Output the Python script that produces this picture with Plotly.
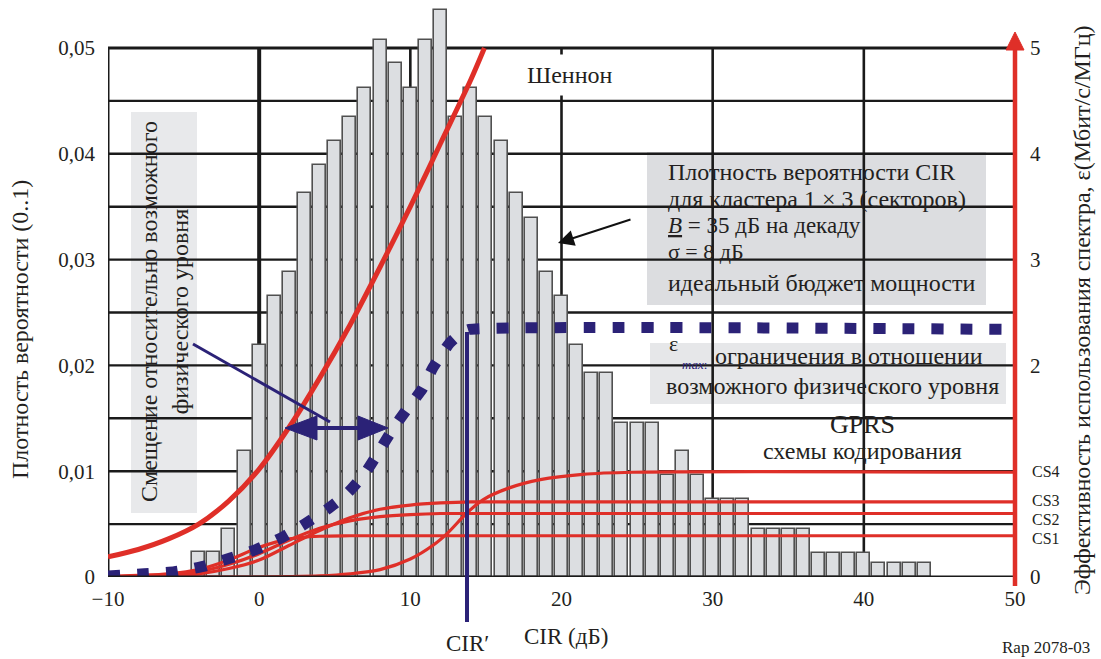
import plotly.graph_objects as go

# ---------------- data ----------------
cir_bins = list(range(-4, 45))
pdf_values = [0.0024, 0.0024, 0.0045, 0.0119, 0.0219, 0.0266, 0.0288, 0.0363, 0.0389, 0.0412,
              0.0435, 0.0462, 0.0508, 0.0486, 0.0462, 0.0508, 0.0536, 0.0435, 0.0462, 0.0435,
              0.0412, 0.0363, 0.0339, 0.0288, 0.0266, 0.0219, 0.0193, 0.0193, 0.0146, 0.0146,
              0.0146, 0.0096, 0.0119, 0.0096, 0.0074, 0.0074, 0.0074, 0.0045, 0.0045, 0.0045,
              0.0045, 0.0023, 0.0023, 0.0023, 0.0023, 0.0013, 0.0013, 0.0013, 0.0013]

shannon_x = [-10, -8, -6, -4, -2, 0, 2, 4, 6, 8, 10, 12, 14, 14.9]
shannon_y = [0.19, 0.26, 0.36, 0.50, 0.72, 1.02, 1.42, 1.88, 2.38, 2.93, 3.5, 4.1, 4.7, 5.0]

eps_x = [-10, -7.6, -5.6, -3.7, -1.9, -0.2, 1.6, 3.0, 4.6, 5.9, 7.0, 7.9, 8.8, 9.8, 10.8,
         11.5, 12.6, 13.4, 13.9, 50]
eps_y = [0.01, 0.03, 0.05, 0.10, 0.18, 0.26, 0.38, 0.50, 0.65, 0.80, 0.98, 1.18, 1.39, 1.59,
         1.78, 1.98, 2.21, 2.31, 2.34, 2.34]

cs1_x = [-10, -8, -6, -4, -2, 0, 2, 4, 6, 50]
cs1_y = [0.005, 0.015, 0.03, 0.07, 0.16, 0.28, 0.36, 0.385, 0.39, 0.39]
cs2_x = [-10, -8, -6, -4, -2, 0, 2, 4, 6, 8, 10, 12, 50]
cs2_y = [0.0, 0.01, 0.02, 0.05, 0.12, 0.22, 0.35, 0.46, 0.53, 0.57, 0.59, 0.60, 0.60]
cs3_x = [-10, -8, -6, -4, -2, 0, 2, 4, 6, 8, 10, 12, 14, 50]
cs3_y = [0.0, 0.005, 0.01, 0.03, 0.08, 0.16, 0.30, 0.44, 0.56, 0.64, 0.68, 0.70, 0.71, 0.71]
cs4_x = [-10, 0, 2, 4, 6, 8, 10, 11.5, 12.5, 13.7, 14.8, 16.5, 18.6, 21.4, 24.7, 50]
cs4_y = [0.0, 0.0, 0.003, 0.01, 0.03, 0.07, 0.17, 0.30, 0.42, 0.60, 0.73, 0.84, 0.92, 0.97, 0.99, 0.99]

x_ticks = [-10, 0, 10, 20, 30, 40, 50]
x_ticktext = ["\u221210", "0", "10", "20", "30", "40", "50"]
y_ticks = [0, 0.01, 0.02, 0.03, 0.04, 0.05]
y_ticktext = ["0", "0,01", "0,02", "0,03", "0,04", "0,05"]
y2_ticks = [0, 2, 3, 4, 5]
y2_ticktext = ["0", "2", "3", "4", "5"]
cs_labels = ["CS4", "CS3", "CS2", "CS1"]

# ---------------- geometry helpers (pixel -> paper) ----------------
W, H = 1101, 659
ML, MR, MT, MB = 108, 86, 0, 82
PW = W - ML - MR
PH = H - MT - MB
YTOP = 0.05 * PH / 529.0
Y2TOP = 5.0 * PH / 529.0


def px(x):
    return (x - ML) / PW


def py(y):
    return (MT + PH - y) / PH


RED = "#DF2F28"
NAVY = "#2B2277"
INK = "#231F20"
SERIF = "Liberation Serif"

fig = go.Figure()

fig.add_trace(go.Bar(x=cir_bins, y=pdf_values, width=0.86,
                     marker=dict(color="#DCDEE1", line=dict(color="#505050", width=1.6)),
                     yaxis="y", showlegend=False))

for xs, ys in [(cs1_x, cs1_y), (cs2_x, cs2_y), (cs3_x, cs3_y), (cs4_x, cs4_y)]:
    fig.add_trace(go.Scatter(x=xs, y=ys, mode="lines", yaxis="y2",
                             line=dict(color=RED, width=3.2, shape="spline", smoothing=0.8),
                             showlegend=False))

fig.add_trace(go.Scatter(x=shannon_x, y=shannon_y, mode="lines", yaxis="y2",
                         line=dict(color=RED, width=5, shape="spline", smoothing=0.8), showlegend=False))

fig.add_trace(go.Scatter(x=eps_x, y=eps_y, mode="lines", yaxis="y2",
                         line=dict(color=NAVY, width=11, dash="12px,17px", shape="spline", smoothing=0.5),
                         showlegend=False))

shapes = []
# horizontal grid
for k in range(1, 11):
    shapes.append(dict(type="line", xref="x", yref="y", x0=-10, x1=50, y0=0.005 * k, y1=0.005 * k,
                       line=dict(color="#1A1A1A", width=3 if k == 10 else 2.4), layer="below"))
# vertical grid
for xv in [-10, 0, 10, 20, 30, 40]:
    shapes.append(dict(type="line", xref="x", yref="y", x0=xv, x1=xv, y0=0, y1=0.05,
                       line=dict(color="#1A1A1A", width=4 if xv == 0 else (3 if xv == -10 else 2.6)),
                       layer="below"))
# grey / white boxes
shapes.append(dict(type="rect", xref="paper", yref="paper", x0=px(131), x1=px(197), y0=py(513), y1=py(112),
                   fillcolor="#E8E9EB", line=dict(width=0), layer="below"))
shapes.append(dict(type="rect", xref="paper", yref="paper", x0=px(647), x1=px(986), y0=py(305), y1=py(152),
                   fillcolor="#DCDDE0", line=dict(width=0), layer="below"))
shapes.append(dict(type="rect", xref="paper", yref="paper", x0=px(650), x1=px(1006), y0=py(404), y1=py(343),
                   fillcolor="#E6E7E9", line=dict(width=0), layer="below"))
shapes.append(dict(type="rect", xref="paper", yref="paper", x0=px(777), x1=px(957), y0=py(463), y1=py(415),
                   fillcolor="white", line=dict(width=0), layer="below"))
# bottom axis line
shapes.append(dict(type="line", xref="x", yref="y", x0=-10, x1=50, y0=0, y1=0,
                   line=dict(color="#1A1A1A", width=3), layer="above"))
# red right axis with arrow
shapes.append(dict(type="line", xref="paper", yref="paper", x0=px(1015), x1=px(1015), y0=py(586), y1=py(48),
                   line=dict(color=RED, width=4.5), layer="above"))
shapes.append(dict(type="path", xref="paper", yref="paper",
                   path=f"M {px(1015)} {py(32)} L {px(1006)} {py(50)} L {px(1024)} {py(50)} Z",
                   fillcolor=RED, line=dict(color=RED, width=1), layer="above"))
# CIR' vertical line
shapes.append(dict(type="line", xref="paper", yref="paper", x0=px(467), x1=px(467), y0=py(622), y1=py(332),
                   line=dict(color=NAVY, width=4), layer="above"))
# navy pointer line
shapes.append(dict(type="line", xref="paper", yref="paper", x0=px(193), x1=px(330), y0=py(344), y1=py(422),
                   line=dict(color=NAVY, width=3), layer="above"))
# double arrow
shapes.append(dict(type="line", xref="paper", yref="paper", x0=px(300), x1=px(372), y0=py(428), y1=py(428),
                   line=dict(color=NAVY, width=4), layer="above"))
shapes.append(dict(type="path", xref="paper", yref="paper",
                   path=f"M {px(285)} {py(428)} L {px(317)} {py(416)} L {px(317)} {py(440)} Z",
                   fillcolor=NAVY, line=dict(color=NAVY, width=1), layer="above"))
shapes.append(dict(type="path", xref="paper", yref="paper",
                   path=f"M {px(388)} {py(428)} L {px(358)} {py(416)} L {px(358)} {py(440)} Z",
                   fillcolor=NAVY, line=dict(color=NAVY, width=1), layer="above"))

ann = []


def text(x, y, s, size=24, xanchor="center", color=INK, angle=0, **kw):
    d = dict(xref="paper", yref="paper", x=px(x), y=py(y), text=s, showarrow=False,
             xanchor=xanchor, yanchor="middle", textangle=angle,
             font=dict(family=SERIF, size=size, color=color))
    d.update(kw)
    ann.append(d)


text(570, 75, "Шеннон", bgcolor="white", borderpad=7)
text(667, 172, "Плотность вероятности CIR", xanchor="left", borderpad=0)
text(667, 199, "для кластера 1 × 3 (секторов)", xanchor="left", borderpad=0)
text(667, 225, "<i><u>B</u></i> = 35 дБ на декаду", size=23, xanchor="left", borderpad=0)
text(667, 251, "σ = 8 дБ", size=22, xanchor="left", borderpad=0)
text(667, 283, "идеальный бюджет мощности", xanchor="left", borderpad=0)
text(673, 343, "ε", size=22)
text(680, 364, "<i>max</i>:", size=13, xanchor="left", color=NAVY)
text(713, 356, "ограничения в отношении", xanchor="left")
text(664, 386, "возможного физического уровня", xanchor="left")
text(862, 424, "GPRS", size=26)
text(862, 451, "схемы кодирования", size=24)
text(164, 312, "Смещение относительно возможного<br>физического уровня", angle=-90)
for lab, yy in zip(cs_labels, [471, 500, 519, 538]):
    text(1031, yy, lab, size=16, xanchor="left", borderpad=0)
text(20, 330, "Плотность вероятности (0..1)", size=24, angle=-90)
text(1082, 310, "Эффективность использования спектра, ε(Мбит/с/МГц)", size=24, angle=-90)
text(467, 643, "CIR′", size=23)
text(566, 636, "CIR (дБ)", size=23)
text(1046, 647, "Rap 2078-03", size=17)

# black arrow toward histogram
ann.append(dict(xref="paper", yref="paper", x=px(558), y=py(243), ax=74, ay=-24, text="",
                showarrow=True, arrowhead=2, arrowsize=1.6, arrowwidth=2, arrowcolor="#111"))

fig.update_layout(
    width=W, height=H, autosize=False,
    margin=dict(l=ML, r=MR, t=MT, b=MB, pad=0),
    paper_bgcolor="white", plot_bgcolor="white",
    bargap=0, showlegend=False,
    xaxis=dict(range=[-10, 50], tickvals=x_ticks, ticktext=x_ticktext, showgrid=False, zeroline=False,
               showline=False, ticks="", tickfont=dict(family=SERIF, size=21, color=INK),
               ticklabelstandoff=7),
    yaxis=dict(range=[0, YTOP], tickvals=y_ticks, ticktext=y_ticktext, showgrid=False, zeroline=False,
               showline=False, ticks="", tickfont=dict(family=SERIF, size=21, color=INK),
               ticklabelstandoff=12),
    yaxis2=dict(range=[0, Y2TOP], overlaying="y", side="right", tickvals=y2_ticks, ticktext=y2_ticktext,
                showgrid=False, zeroline=False, showline=False, ticks="",
                tickfont=dict(family=SERIF, size=21, color=INK), ticklabelstandoff=14),
    shapes=shapes, annotations=ann,
)

fig.write_html("out.html")
